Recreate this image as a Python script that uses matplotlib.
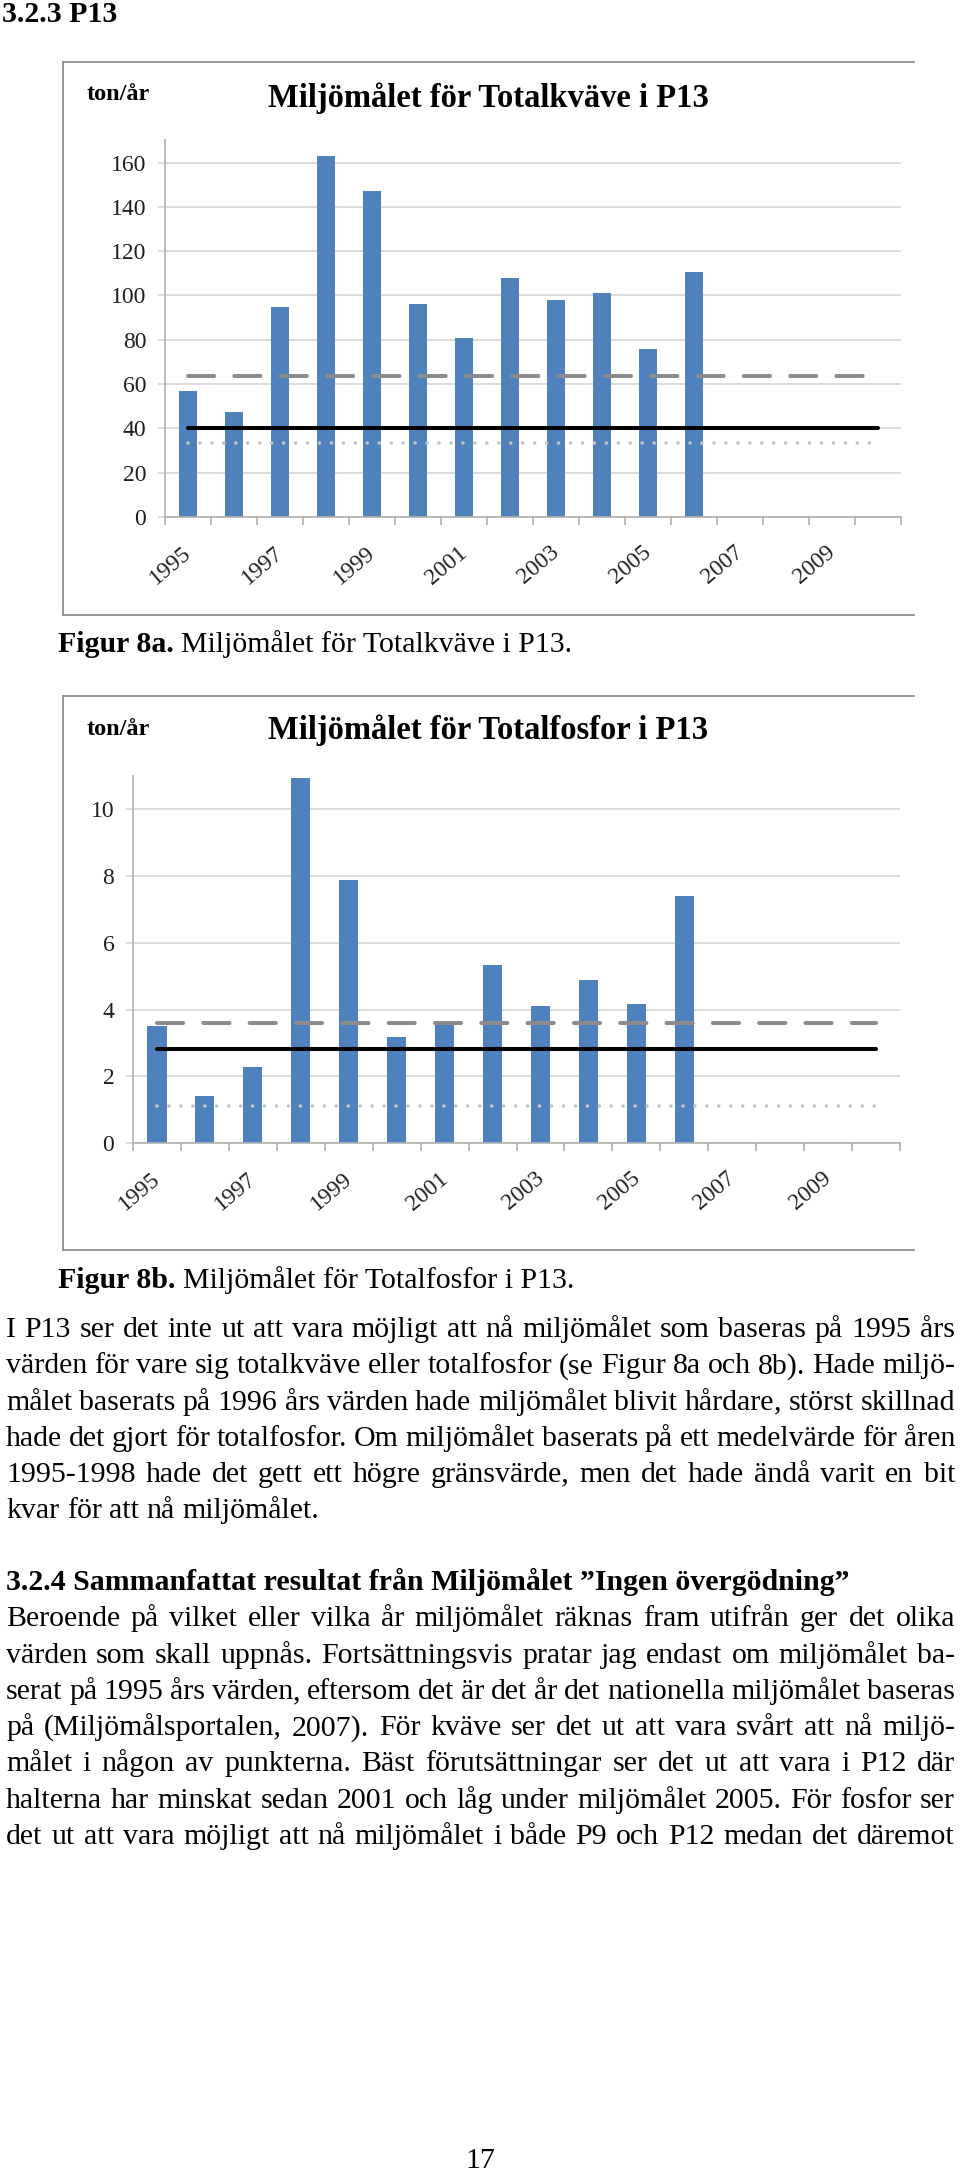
# plot.py - sida 17: miljömålet för Totalkväve / Totalfosfor i P13
# två stapeldiagram med målnivåer + brödtext, ritat som en hel sida

import unicodedata

import matplotlib
matplotlib.use('Agg')
import matplotlib.pyplot as plt
import matplotlib.transforms as mtransforms
from matplotlib.lines import Line2D
from matplotlib.font_manager import FontProperties

plt.rcParams['font.family'] = 'serif'
plt.rcParams['font.serif'] = ['Liberation Serif', 'DejaVu Serif']

# ---- data -------------------------------------------------------------
years = ['1995', '1996', '1997', '1998', '1999', '2000', '2001', '2002',
         '2003', '2004', '2005', '2006', '2007', '2008', '2009', '2010']

kvave_values = [56.9, 47.3, 94.6, 162.8, 147.3, 96.3, 80.9, 108.1,
                97.8, 101.1, 75.8, 110.8]
kvave_mal_1995 = 40.0
kvave_mal_medel = 63.5
kvave_mal_1996 = 33.3
kvave_yticks = [0, 20, 40, 60, 80, 100, 120, 140, 160]
kvave_ymax = 170

fosfor_values = [3.51, 1.40, 2.27, 10.94, 7.87, 3.18, 3.55, 5.35,
                 4.12, 4.90, 4.16, 7.39]
fosfor_mal_1995 = 2.83
fosfor_mal_medel = 3.61
fosfor_mal_1996 = 1.10
fosfor_yticks = [0, 2, 4, 6, 8, 10]
fosfor_ymax = 11.0

para1 = [
    "I P13 ser det inte ut att vara möjligt att nå miljömålet som baseras på 1995 års",
    "värden för vare sig totalkväve eller totalfosfor (se Figur 8a och 8b). Hade miljö-",
    "målet baserats på 1996 års värden hade miljömålet blivit hårdare, störst skillnad",
    "hade det gjort för totalfosfor. Om miljömålet baserats på ett medelvärde för åren",
    "1995-1998 hade det gett ett högre gränsvärde, men det hade ändå varit en bit",
    "kvar för att nå miljömålet.",
]
heading2 = "3.2.4 Sammanfattat resultat från Miljömålet \u201dIngen övergödning\u201d"
para2 = [
    "Beroende på vilket eller vilka år miljömålet räknas fram utifrån ger det olika",
    "värden som skall uppnås. Fortsättningsvis pratar jag endast om miljömålet ba-",
    "serat på 1995 års värden, eftersom det är det år det nationella miljömålet baseras",
    "på (Miljömålsportalen, 2007). För kväve ser det ut att vara svårt att nå miljö-",
    "målet i någon av punkterna. Bäst förutsättningar ser det ut att vara i P12 där",
    "halterna har minskat sedan 2001 och låg under miljömålet 2005. För fosfor ser",
    "det ut att vara möjligt att nå miljömålet i både P9 och P12 medan det däremot",
]

# ---- page geometry (pixels) -------------------------------------------
W, H, DPI = 960, 2174, 100
SERIF = 'Liberation Serif'
BODY_SIZE = 21.5
TEXT_LEFT, TEXT_RIGHT = 6, 955
LINE_STEP = 36.3
DESCENDERS = set('gjpqy()')

BAR_COLOR = '#4f81bd'
GRID_COLOR = '#d9d9d9'
AXIS_COLOR = '#b0b0b0'
FRAME_COLOR = '#8f8f8f'
LABEL_COLOR = '#202020'


def fx(x):
    return x / W


def fy(y):
    return 1 - y / H


def nfc(s):
    # sammansatta tecken (å, ä, ö) som ett enda kodtecken
    return unicodedata.normalize('NFC', s)


def draw_chart(fig, frame, plot_box, title, title_y, unit_y, values,
               yticks, ymax, mal_1995, mal_medel, mal_1996):
    """Rita ett diagram med ram, rubrik och målnivåer."""
    left, top, right, bottom = frame
    # ramen runt diagrammet (höger kant syns inte i originalet)
    for x0, y0, x1, y1 in [(left, top, left, bottom), (left, top, right, top),
                           (left, bottom, right, bottom)]:
        fig.add_artist(Line2D([fx(x0), fx(x1)], [fy(y0), fy(y1)],
                              color=FRAME_COLOR, lw=1.3))

    fig.text(fx(87), fy(unit_y), nfc('ton/år'), family=SERIF, fontsize=17.5,
             fontweight='bold', va='baseline', ha='left')
    fig.text(fx(488), fy(title_y), nfc(title), family=SERIF, fontsize=23.5,
             fontweight='bold', va='baseline', ha='center')

    ax_l, ax_t, ax_r, ax_b = plot_box
    ax = fig.add_axes([fx(ax_l), fy(ax_b), (ax_r - ax_l) / W, (ax_b - ax_t) / H])

    n = len(years)
    ax.bar(range(len(values)), values, width=0.4, color=BAR_COLOR, zorder=2)

    # målnivåer, från första till sista kategorin
    span = [0, n - 1]
    ax.plot(span, [mal_1996] * 2, color='#c4c4c4', lw=2.6,
            linestyle=(0, (0.01, 3.3)), dash_capstyle='round', zorder=3)
    ax.plot(span, [mal_1995] * 2, color='black', lw=2.9,
            solid_capstyle='round', zorder=4)
    ax.plot(span, [mal_medel] * 2, color='#8c8c8c', lw=2.9,
            linestyle=(0, (6.5, 5)), dash_capstyle='round', zorder=5)

    ax.set_xlim(-0.5, n - 0.5)
    ax.set_ylim(0, ymax)
    ax.set_yticks(yticks)
    ax.set_yticklabels([str(t) for t in yticks], family=SERIF)
    ax.yaxis.grid(True, color=GRID_COLOR, lw=1.3)
    ax.set_axisbelow(True)

    for side in ['top', 'right']:
        ax.spines[side].set_visible(False)
    for side in ['left', 'bottom']:
        ax.spines[side].set_color(AXIS_COLOR)
        ax.spines[side].set_linewidth(1.2)

    # etiketter vid varannan kategori, streck vid kategorigränserna
    ax.set_xticks(range(0, n, 2))
    ax.set_xticklabels(years[::2], rotation=40, ha='right', family=SERIF,
                       rotation_mode='anchor', fontsize=17, color=LABEL_COLOR)
    ax.set_xticks([i - 0.5 for i in range(n + 1)], minor=True)
    ax.tick_params(axis='x', which='major', length=0, pad=18)
    ax.tick_params(axis='x', which='minor', length=5.8, width=1.2,
                   color=AXIS_COLOR, direction='out')
    ax.tick_params(axis='y', length=5, width=1.3, color=GRID_COLOR, pad=8.5,
                   labelsize=17, labelcolor=LABEL_COLOR)

    shift = mtransforms.ScaledTranslation(-6 / DPI, 0, fig.dpi_scale_trans)
    for lbl in ax.get_xticklabels():
        lbl.set_transform(lbl.get_transform() + shift)
    return ax


def text_width(renderer, s, fp):
    return renderer.get_text_width_height_descent(s, fp, ismath=False)[0]


def put_word(fig, renderer, word, x, y, fp):
    # ett ord där kommat är enda nedstapeln hamnar för högt i Agg,
    # så kommat ritas då för sig
    stem = word[:-1]
    if word.endswith(',') and not (set(stem) & DESCENDERS):
        fig.text(fx(x), fy(y), stem, fontproperties=fp, va='baseline')
        fig.text(fx(x + text_width(renderer, stem + 'a', fp)
                    - text_width(renderer, 'a', fp)),
                 fy(y), ',', fontproperties=fp, va='baseline')
    else:
        fig.text(fx(x), fy(y), word, fontproperties=fp, va='baseline')


def put_line(fig, renderer, line, y, fp, justify=True):
    """Lägg ut en rad ord för ord, marginaljusterad om justify=True."""
    words = nfc(line).split(' ')
    widths = [text_width(renderer, w, fp) for w in words]
    space = text_width(renderer, 'a a', fp) - text_width(renderer, 'aa', fp)
    if justify and len(words) > 1:
        gap = (TEXT_RIGHT - TEXT_LEFT - sum(widths)) / (len(words) - 1)
    else:
        gap = space
    x = TEXT_LEFT
    for w, wd in zip(words, widths):
        put_word(fig, renderer, w, x, y, fp)
        x += wd + gap


def put_caption(fig, renderer, bold_part, rest, y):
    fb = FontProperties(family=SERIF, size=BODY_SIZE, weight='bold')
    fr = FontProperties(family=SERIF, size=BODY_SIZE)
    x = 58
    fig.text(fx(x), fy(y), bold_part, fontproperties=fb, va='baseline')
    x += text_width(renderer, bold_part, fb)
    x += text_width(renderer, 'a a', fr) - text_width(renderer, 'aa', fr)
    fig.text(fx(x), fy(y), nfc(rest), fontproperties=fr, va='baseline')


def main():
    fig = plt.figure(figsize=(W / DPI, H / DPI), dpi=DPI)
    renderer = fig.canvas.get_renderer()

    body = FontProperties(family=SERIF, size=BODY_SIZE)
    body_bold = FontProperties(family=SERIF, size=BODY_SIZE, weight='bold')

    fig.text(fx(2), fy(22), '3.2.3 P13', fontproperties=body_bold,
             va='baseline')

    draw_chart(fig, (63, 62, 914, 615), (165, 140.4, 901, 517),
               'Miljömålet för Totalkväve i P13', 107, 100,
               kvave_values, kvave_yticks, kvave_ymax,
               kvave_mal_1995, kvave_mal_medel, kvave_mal_1996)
    put_caption(fig, renderer, 'Figur 8a.', 'Miljömålet för Totalkväve i P13.', 652)

    draw_chart(fig, (63, 696, 914, 1250), (133, 776, 900, 1143),
               'Miljömålet för Totalfosfor i P13', 739, 735,
               fosfor_values, fosfor_yticks, fosfor_ymax,
               fosfor_mal_1995, fosfor_mal_medel, fosfor_mal_1996)
    put_caption(fig, renderer, 'Figur 8b.', 'Miljömålet för Totalfosfor i P13.', 1288)

    # brödtext
    y = 1337
    for i, line in enumerate(para1):
        put_line(fig, renderer, line, y, body, justify=(i < len(para1) - 1))
        y += LINE_STEP

    y = 1590
    fig.text(fx(TEXT_LEFT), fy(y), nfc(heading2), fontproperties=body_bold,
             va='baseline')
    y += LINE_STEP
    for line in para2:
        put_line(fig, renderer, line, y, body, justify=True)
        y += LINE_STEP

    fig.text(fx(480), fy(2168), '17', fontproperties=body, ha='center',
             va='baseline')

    fig.savefig('out.png', dpi=DPI)


if __name__ == '__main__':
    main()
